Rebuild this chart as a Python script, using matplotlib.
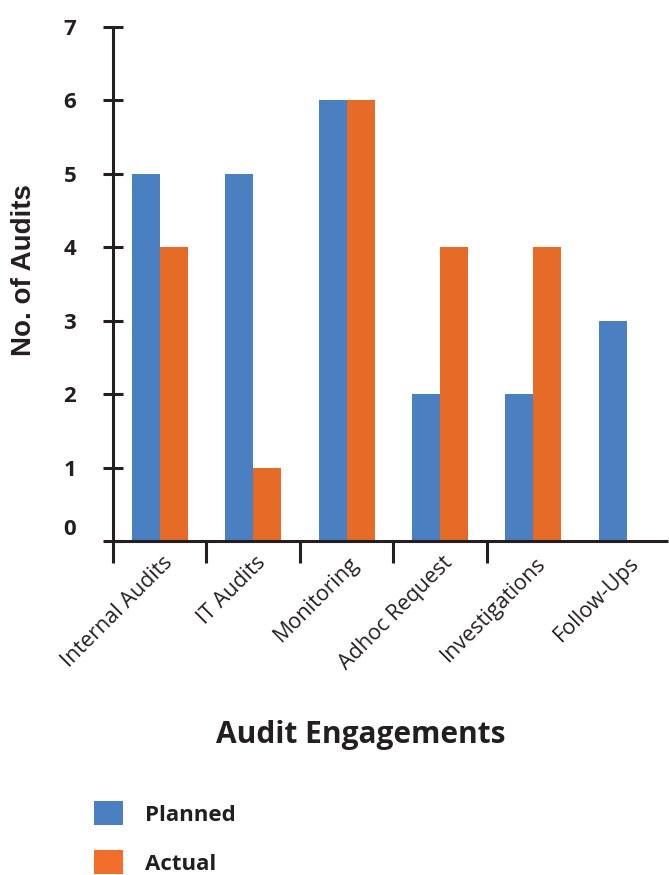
import matplotlib
matplotlib.use("Agg")
import matplotlib.pyplot as plt
import matplotlib.transforms as mtransforms
from matplotlib.patches import Patch
import numpy as np

categories = ["Internal Audits", "IT Audits", "Monitoring", "Adhoc Request",
              "Investigations", "Follow-Ups"]
planned = [5, 5, 6, 2, 2, 3]
actual = [4, 1, 6, 4, 4, 0]
y_ticks = [0, 1, 2, 3, 4, 5, 6, 7]

blue = "#4a80c1"
orange = "#e56b26"
ink = "#231f20"

plt.rcParams["font.family"] = ["Open Sans", "DejaVu Sans"]

fig = plt.figure(figsize=(6.69, 8.75), dpi=100)
ax = fig.add_axes([113 / 669, 334 / 875, 555 / 669, 514 / 875])

x = np.arange(len(categories))
w = 0.3
ax.bar(x - w / 2, planned, w, color=blue)
ax.bar(x + w / 2, actual, w, color=orange)

ax.set_xlim(-0.5, 5.44)
ax.set_ylim(0, 7)

for side in ["top", "right"]:
    ax.spines[side].set_visible(False)
for side in ["left", "bottom"]:
    ax.spines[side].set_linewidth(2.2)
    ax.spines[side].set_color(ink)
    ax.spines[side].set_capstyle("butt")

# y ticks cross the axis
ax.set_yticks(y_ticks)
ax.set_yticklabels([str(v) for v in y_ticks], fontsize=16, fontweight="bold", color=ink)
ax.tick_params(axis="y", direction="inout", length=15, width=2.2, color=ink, pad=19)
lbl0 = ax.get_yticklabels()[0]
lbl0.set_transform(lbl0.get_transform() +
                   mtransforms.ScaledTranslation(0, 14 / 100, fig.dpi_scale_trans))

# x ticks sit on category boundaries, labels at centres
ax.set_xticks(x)
ax.set_xticks(np.arange(len(categories) - 1) - 0.5, minor=True)
ax.tick_params(axis="x", which="major", length=0, pad=4)
ax.tick_params(axis="x", which="minor", direction="out", length=16, width=2.2, color=ink)
ax.set_xticklabels(categories, rotation=45, ha="right", va="top",
                   rotation_mode="anchor", fontsize=15.5, color=ink)
for lbl in ax.get_xticklabels():
    lbl.set_transform(lbl.get_transform() +
                      mtransforms.ScaledTranslation(2 / 100, -6 / 100, fig.dpi_scale_trans))

fig.text(24 / 669, 1 - 270 / 875, "No. of Audits", rotation=90, ha="center", va="center",
         fontsize=20, fontweight="bold", color=ink, family="Liberation Sans")
fig.text(361 / 669, 1 - 735 / 875, "Audit Engagements", ha="center", va="center",
         fontsize=21.5, fontweight="bold", color=ink)

handles = [Patch(facecolor=blue), Patch(facecolor="#f26e2a")]
leg = fig.legend(handles, ["Planned", "Actual"], loc="upper left",
                 bbox_to_anchor=(94 / 669, 1 - 801 / 875), frameon=False,
                 borderpad=0, borderaxespad=0, handlelength=1.3, handleheight=1.3,
                 handletextpad=1.0, labelspacing=1.1,
                 prop={"size": 16, "weight": "bold"})
for t in leg.get_texts():
    t.set_color(ink)

fig.savefig("out.png", dpi=100)
